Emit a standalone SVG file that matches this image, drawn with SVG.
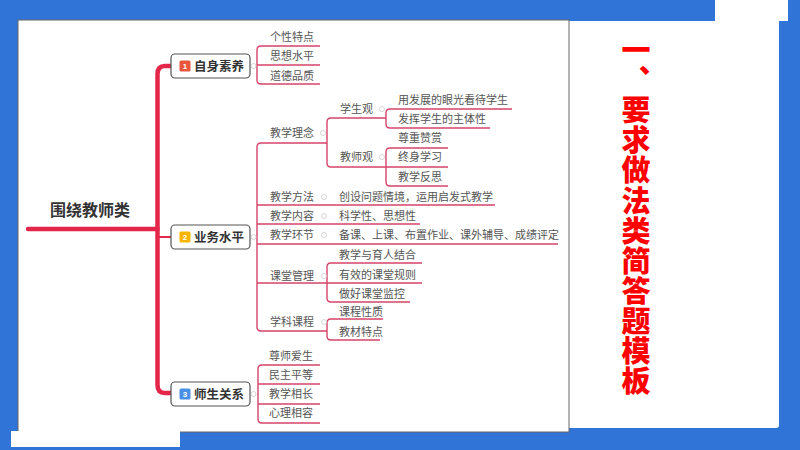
<svg xmlns="http://www.w3.org/2000/svg" width="800" height="450" viewBox="0 0 800 450">
<defs>
<style>
.bg{fill:#2f74d6}
.panel{fill:#ffffff}
.trunk{fill:none;stroke:#e3264a;stroke-width:4.5;stroke-linecap:round}
.thin{fill:none;stroke:#d6436b;stroke-width:1.4}
.node{fill:#ffffff;stroke:#555555;stroke-width:1.2}
.nt{font-family:"Noto Sans CJK SC","Noto Sans",sans-serif;font-size:12.5px;font-weight:700;fill:#333333}
.bn{font-family:"Liberation Sans",sans-serif;font-size:8px;font-weight:700;fill:#ffffff;text-anchor:middle}
.t{font-family:"Noto Sans CJK SC","Noto Sans",sans-serif;font-size:11px;fill:#555555}
.root{font-family:"Noto Sans CJK SC","Noto Sans",sans-serif;font-size:16px;font-weight:700;fill:#333333;text-anchor:middle}
.dot{fill:#ffffff;stroke:#cccccc;stroke-width:0.8}
.title{font-family:"Noto Sans CJK SC",sans-serif;font-size:29px;font-weight:900;fill:#ff0000;writing-mode:vertical-rl;letter-spacing:1.1px}
</style>
</defs>
<rect class="bg" x="0" y="0" width="800" height="450"/>
<rect class="panel" x="715" y="0" width="73" height="21"/>
<path class="panel" d="M569 21 H779 V425 Q779 428 776 428 H569 Z"/>
<rect x="18" y="20" width="551" height="412" fill="#ffffff" stroke="#666666" stroke-width="1"/>
<rect class="panel" x="11" y="431" width="169" height="16"/>

<text id="title" class="title" x="636" y="35.5">一、要求做法类简答题模板</text>

<g id="connectors">
<path class="trunk" d="M28 229 H157.5"/>
<path class="trunk" d="M171 66 H165 Q157.5 66 157.5 74 V385 Q157.5 393 165 393 H171"/>
<path class="thin" d="M157.5 237 H171" style="stroke:#e3264a;stroke-width:2"/>
<!-- 自身素养 -->
<path class="thin" d="M320 46 H261 Q257 46 257 50 V80 Q257 84 261 84 H320 M257 65 H320"/>
<!-- 业务水平 -->
<path class="thin" d="M327 143 H261 Q257 143 257 147 V327 Q257 331 261 331 H327 M257 205 H495 M257 224 H420 M257 244 H558 M257 283 H422"/>
<path class="thin" d="M386 118 H331 Q327 118 327 122 V163 Q327 167 331 167 H448"/>
<path class="thin" d="M512 109 H390 Q386 109 386 113 V124 Q386 128 390 128 H490"/>
<path class="thin" d="M448 148 H390 Q386 148 386 152 V182 Q386 186 390 186 H448"/>
<path class="thin" d="M422 263 H331 Q327 263 327 267 V298 Q327 302 331 302 H410"/>
<path class="thin" d="M383 319 H331 Q327 319 327 323 V336 Q327 340 331 340 H380"/>
<!-- 师生关系 -->
<path class="thin" d="M320 365 H262 Q258 365 258 369 V419 Q258 423 262 423 H320 M258 384 H320 M258 404 H320"/>
<!-- collapse dots -->
<circle class="dot" cx="253.5" cy="66" r="2.5"/>
<circle class="dot" cx="253.5" cy="237" r="2.5"/>
<circle class="dot" cx="253.5" cy="394" r="2.5"/>
<circle class="dot" cx="323" cy="133" r="2.5"/>
<circle class="dot" cx="382" cy="109" r="2.5"/>
<circle class="dot" cx="382" cy="157" r="2.5"/>
<circle class="dot" cx="324" cy="197" r="2.5"/>
<circle class="dot" cx="324" cy="216" r="2.5"/>
<circle class="dot" cx="324" cy="235" r="2.5"/>
<circle class="dot" cx="324" cy="276" r="2.5"/>
<circle class="dot" cx="324" cy="322" r="2.5"/>
</g>

<g id="root">
<text class="root" x="90" y="216">围绕教师类</text>
</g>

<g id="n1">
<rect class="node" x="171" y="54" width="79" height="24" rx="4"/>
<rect x="179.5" y="60.5" width="11" height="11" rx="1.5" fill="#e8553c"/>
<text class="bn" x="185" y="69">1</text>
<text class="nt" x="194" y="70.5">自身素养</text>
</g>
<g id="n1c">
<text class="t" x="270" y="41">个性特点</text>
<text class="t" x="270" y="60">思想水平</text>
<text class="t" x="270" y="80">道德品质</text>
</g>

<g id="n2">
<rect class="node" x="171" y="225" width="79" height="24" rx="4"/>
<rect x="179.5" y="231.5" width="11" height="11" rx="1.5" fill="#f7b500"/>
<text class="bn" x="185" y="240">2</text>
<text class="nt" x="194" y="241.5">业务水平</text>
</g>
<g id="n2c">
<text class="t" x="270" y="137">教学理念</text>
<text class="t" x="340" y="113">学生观</text>
<text class="t" x="340" y="161">教师观</text>
<text class="t" x="398" y="104">用发展的眼光看待学生</text>
<text class="t" x="398" y="123">发挥学生的主体性</text>
<text class="t" x="398" y="142">尊重赞赏</text>
<text class="t" x="398" y="161">终身学习</text>
<text class="t" x="398" y="181">教学反思</text>
<text class="t" x="270" y="201">教学方法</text>
<text class="t" x="339" y="201">创设问题情境，运用启发式教学</text>
<text class="t" x="270" y="220">教学内容</text>
<text class="t" x="339" y="220">科学性、思想性</text>
<text class="t" x="270" y="239">教学环节</text>
<text class="t" x="339" y="239">备课、上课、布置作业、课外辅导、成绩评定</text>
<text class="t" x="270" y="280">课堂管理</text>
<text class="t" x="339" y="259">教学与育人结合</text>
<text class="t" x="339" y="279">有效的课堂规则</text>
<text class="t" x="339" y="298">做好课堂监控</text>
<text class="t" x="270" y="326">学科课程</text>
<text class="t" x="339" y="316">课程性质</text>
<text class="t" x="339" y="336">教材特点</text>
</g>

<g id="n3">
<rect class="node" x="171" y="382" width="79" height="24" rx="4"/>
<rect x="179.5" y="388.5" width="11" height="11" rx="1.5" fill="#4a8fe6"/>
<text class="bn" x="185" y="397">3</text>
<text class="nt" x="194" y="398.5">师生关系</text>
</g>
<g id="n3c">
<text class="t" x="269" y="360">尊师爱生</text>
<text class="t" x="269" y="379">民主平等</text>
<text class="t" x="269" y="398">教学相长</text>
<text class="t" x="269" y="417">心理相容</text>
</g>
</svg>
